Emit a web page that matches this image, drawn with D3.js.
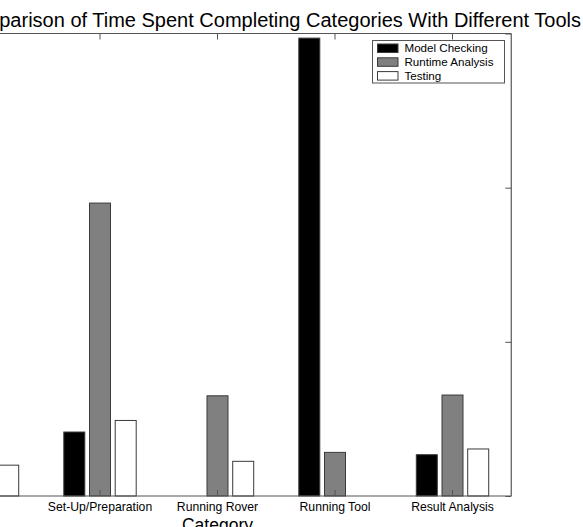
<!DOCTYPE html>
<html>
<head>
<meta charset="utf-8">
<script src="https://cdn.jsdelivr.net/npm/d3@7"></script>
<style>
  html, body { margin: 0; padding: 0; background: #fff; }
  svg { display: block; font-family: "Liberation Sans", Arial, Helvetica, sans-serif; }
</style>
</head>
<body>
<svg id="chart" width="583" height="527"></svg>
<script>
// ---- data ----
const categories = ["Study", "Set-Up/Preparation", "Running Rover", "Running Tool", "Result Analysis"];
const seriesNames = ["Model Checking", "Runtime Analysis", "Testing"];
const modelChecking   = [0,    4.15, 0,    29.7, 2.68];
const runtimeAnalysis = [0,    19.0, 6.5,  2.83, 6.55];
const testing         = [2.0,  4.9,  2.25, 0,    3.05];
const yTicks = [0, 10, 20, 30];
const chartTitle = "Comparison of Time Spent Completing Categories With Different Tools";
const xLabel = "Category";

const seriesValues = [modelChecking, runtimeAnalysis, testing];
const fills = ["#000000", "#808080", "#ffffff"];

// ---- layout ----
const svg = d3.select("#chart");
const axL = -76.25, axR = 511.25, axT = 33.5, axB = 496;

const x = d3.scaleBand().domain(categories).range([axL, axR]).paddingInner(0).paddingOuter(0);
const innerW = 72.4;
const xs = d3.scaleBand().domain(seriesNames).range([-innerW / 2, innerW / 2]).paddingInner(0.183).paddingOuter(0);
const y = d3.scaleLinear().domain([0, 30]).range([axB, axT]);

// bars
const rows = [];
categories.forEach((c, i) => seriesNames.forEach((s, j) => rows.push({ c, s, j, v: seriesValues[j][i] })));

svg.append("g").selectAll("rect").data(rows.filter(d => d.v > 0)).join("rect")
  .attr("x", d => x(d.c) + x.bandwidth() / 2 + xs(d.s))
  .attr("width", xs.bandwidth())
  .attr("y", d => y(d.v))
  .attr("height", d => y(0) - y(d.v))
  .attr("fill", d => fills[d.j])
  .attr("stroke", "#3a3a3a")
  .attr("stroke-width", 1);

// axes (MATLAB style: ticks inward, box); the left part of the axes lies outside the view
const axisColor = "#555";
const tickLen = 6;
const inView = c => x(c) + x.bandwidth() / 2 > 0;
const gBottom = svg.append("g").attr("transform", `translate(0,${axB})`)
  .call(d3.axisBottom(x).tickSize(-tickLen).tickPadding(6).tickFormat(c => inView(c) ? c : ""));
const gTop = svg.append("g").attr("transform", `translate(0,${axT})`)
  .call(d3.axisTop(x).tickSize(-tickLen).tickFormat(""));
const gLeft = svg.append("g").attr("transform", `translate(${axL},0)`)
  .call(d3.axisLeft(y).tickValues(yTicks).tickSize(-tickLen).tickFormat(""));
const gRight = svg.append("g").attr("transform", `translate(${axR},0)`)
  .call(d3.axisRight(y).tickValues(yTicks).tickSize(-tickLen).tickFormat(""));

[gBottom, gTop, gLeft, gRight].forEach(g => {
  g.select(".domain").attr("stroke", axisColor).attr("stroke-width", 1.2);
  g.selectAll(".tick line").attr("stroke", axisColor);
  g.selectAll(".tick text").attr("fill", "#000").attr("font-size", 12.2)
    .attr("font-family", "'Liberation Sans', Arial, sans-serif");
});
gBottom.select(".domain").attr("d", `M${axL},0H${axR}`);
gTop.select(".domain").attr("d", `M${axL},0H${axR}`);
gLeft.select(".domain").attr("d", `M0,${axT}V${axB}`);
gRight.select(".domain").attr("d", `M0,${axT}V${axB}`);

// title (its start is cut by the left edge, as in the reference)
svg.append("text")
  .attr("x", 581).attr("y", 27)
  .attr("text-anchor", "end")
  .attr("font-size", 20)
  .attr("fill", "#000")
  .text(chartTitle);

// x label
svg.append("text")
  .attr("x", (axL + axR) / 2).attr("y", 531)
  .attr("text-anchor", "middle")
  .attr("font-size", 17.5)
  .attr("fill", "#000")
  .text(xLabel);

// legend
const lg = svg.append("g").attr("transform", "translate(372.5,40.5)");
lg.append("rect").attr("width", 132).attr("height", 42.5)
  .attr("fill", "#fff").attr("stroke", axisColor).attr("stroke-width", 1);
const items = lg.selectAll("g.item").data(seriesNames).join("g")
  .attr("class", "item")
  .attr("transform", (d, i) => `translate(5,${7.5 + i * 13.8})`);
items.append("rect").attr("x", 0).attr("y", -4).attr("width", 20.5).attr("height", 8.5)
  .attr("fill", (d, i) => fills[i]).attr("stroke", "#3a3a3a").attr("stroke-width", 1);
items.append("text").attr("x", 27).attr("y", 4.2).attr("font-size", 11.6).attr("fill", "#000").text(d => d);
</script>
</body>
</html>
